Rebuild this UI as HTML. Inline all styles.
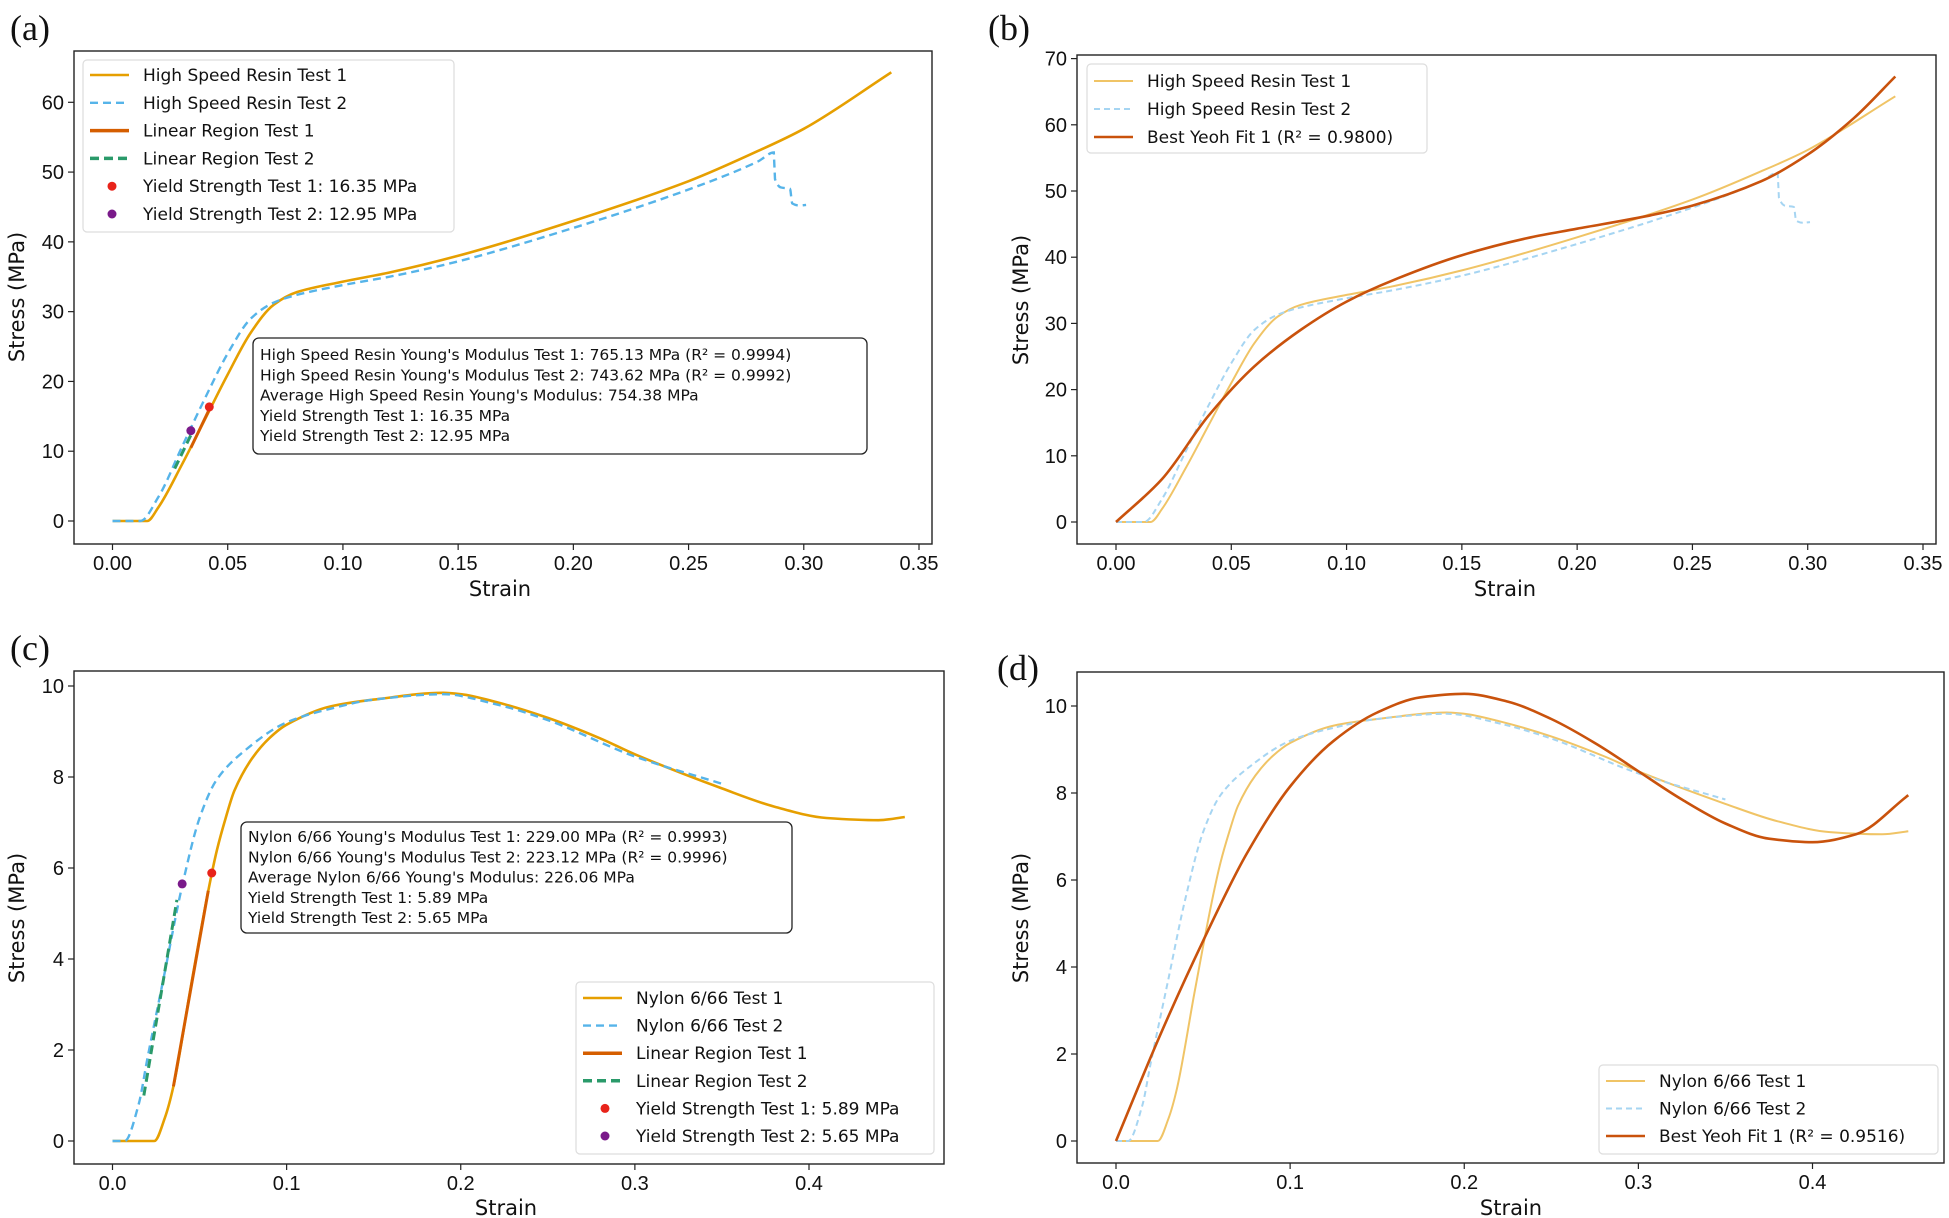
<!DOCTYPE html>
<html><head><meta charset="utf-8"><style>
html,body{margin:0;padding:0;background:#fff;}
svg{display:block;}
text{font-family:"DejaVu Sans","Liberation Sans",sans-serif;}
.tick{font-family:"Liberation Sans",sans-serif;font-size:20px;fill:#111;}
.lab{font-family:"DejaVu Sans",sans-serif;font-size:21px;fill:#111;}
.leg{font-size:17px;fill:#111;}
.ann{font-size:15.5px;fill:#111;}
.plab{font-family:"Liberation Serif",serif;font-size:36px;fill:#111;}
</style></head><body>
<svg id="fig" width="1949" height="1218" viewBox="0 0 1949 1218" xmlns="http://www.w3.org/2000/svg"></svg>
<script>
// ---- data ----
const hsrT1X=[0,0.015,0.02,0.03,0.04,0.05,0.06,0.07,0.08,0.1,0.12,0.15,0.2,0.25,0.28,0.3,0.338];
const hsrT1Y=[0,0,2,8,14.5,21,27,31,32.8,34.3,35.6,38,43,48.7,53,56.2,64.3];
const hsrT2X=[0,0.012,0.02,0.03,0.04,0.05,0.06,0.07,0.08,0.1,0.12,0.15,0.2,0.25,0.28,0.287,0.2875,0.29,0.294,0.295,0.298,0.301];
const hsrT2Y=[0,0,3.5,10.5,17.5,24,29,31.3,32.4,33.8,35,37.2,42,47.5,51.5,52.8,49,47.8,47.6,45.5,45.2,45.3];
const hsrLin1X=[0.034,0.042], hsrLin1Y=[10.5,16];
const hsrLin2X=[0.027,0.035], hsrLin2Y=[7.5,13];
const hsrYieldX=[0.042,0.034], hsrYieldY=[16.35,12.95];
const hsrFitX=[0,0.02,0.04,0.06,0.08,0.1,0.12,0.15,0.18,0.2,0.23,0.25,0.28,0.3,0.32,0.338];
const hsrFitY=[0,6.5,16,23.5,29,33.3,36.5,40.3,43,44.3,46.2,47.8,51.5,55.5,61,67.3];
const nyT1X=[0,0.024,0.03,0.035,0.045,0.055,0.06,0.065,0.07,0.08,0.09,0.1,0.125,0.15,0.19,0.2,0.22,0.25,0.28,0.3,0.35,0.38,0.41,0.44,0.455];
const nyT1Y=[0,0,0.5,1.2,3.4,5.5,6.4,7.1,7.7,8.4,8.85,9.15,9.55,9.7,9.85,9.82,9.65,9.3,8.85,8.5,7.75,7.35,7.1,7.05,7.12];
const nyT2X=[0,0.007,0.015,0.02,0.03,0.04,0.05,0.06,0.075,0.1,0.125,0.15,0.19,0.22,0.25,0.3,0.35];
const nyT2Y=[0,0,0.8,1.8,3.7,5.6,7.1,7.95,8.55,9.2,9.5,9.7,9.82,9.6,9.25,8.45,7.85];
const nyLin1X=[0.035,0.055], nyLin1Y=[1.2,5.5];
const nyLin2X=[0.018,0.037], nyLin2Y=[1,5.3];
const nyYieldX=[0.057,0.04], nyYieldY=[5.89,5.65];
const nyFitX=[0,0.025,0.05,0.075,0.1,0.125,0.15,0.175,0.2,0.225,0.25,0.275,0.3,0.325,0.35,0.375,0.4,0.425,0.455];
const nyFitY=[0,2.4,4.6,6.6,8.15,9.2,9.85,10.2,10.28,10.1,9.7,9.15,8.5,7.85,7.3,6.95,6.87,7.05,7.95];
const hsrXTicks=[0,0.05,0.1,0.15,0.2,0.25,0.3,0.35];
const hsrXLabels=["0.00","0.05","0.10","0.15","0.20","0.25","0.30","0.35"];
const hsrYTicksA=[0,10,20,30,40,50,60];
const hsrYTicksB=[0,10,20,30,40,50,60,70];
const nyXTicks=[0,0.1,0.2,0.3,0.4];
const nyXLabels=["0.0","0.1","0.2","0.3","0.4"];
const nyYTicks=[0,2,4,6,8,10];

const NS="http://www.w3.org/2000/svg";
const svg=document.getElementById('fig');
function el(tag,attrs,parent,txt){const e=document.createElementNS(NS,tag);for(const k in attrs)e.setAttribute(k,attrs[k]);if(txt!==undefined)e.textContent=txt;(parent||svg).appendChild(e);return e;}
// monotone cubic (Fritsch-Carlson) in screen coords
function pathD(xs,ys,sx,sy){const X=xs.map(sx),Y=ys.map(sy),n=X.length;
 if(n<3)return 'M'+X[0]+','+Y[0]+'L'+X[1]+','+Y[1];
 const d=[],m=new Array(n);
 for(let i=0;i<n-1;i++){const h=X[i+1]-X[i];d.push(h>1e-6?(Y[i+1]-Y[i])/h:(Y[i+1]>Y[i]?1e6:-1e6));}
 m[0]=d[0];m[n-1]=d[n-2];
 for(let i=1;i<n-1;i++){m[i]=(d[i-1]*d[i]<=0)?0:2/(1/d[i-1]+1/d[i]);}
 let s='M'+X[0].toFixed(1)+','+Y[0].toFixed(1);
 for(let i=0;i<n-1;i++){const h=X[i+1]-X[i];
  if(h<1.5){s+='L'+X[i+1].toFixed(1)+','+Y[i+1].toFixed(1);continue;}
  s+=`C${(X[i]+h/3).toFixed(1)},${(Y[i]+m[i]*h/3).toFixed(1)} ${(X[i+1]-h/3).toFixed(1)},${(Y[i+1]-m[i+1]*h/3).toFixed(1)} ${X[i+1].toFixed(1)},${Y[i+1].toFixed(1)}`;}
 return s;}
function panel(cfg){
 const g=el('g',{});
 
 
 const sx=v=>cfg.x0+(v-0)*(cfg.x1px-cfg.x0)/cfg.x1v;
 const sy=v=>cfg.y0-v*(cfg.y0-cfg.y1px)/cfg.y1v;
 cfg.xt.forEach((t,i)=>{const x=sx(t);el('line',{x1:x,y1:cfg.B,x2:x,y2:cfg.B+6,stroke:'#222','stroke-width':1.2},g);
  const tx=el('text',{x:x,y:cfg.B+26,'text-anchor':'middle',class:'tick'},g,cfg.xl[i]);
  
  });
 cfg.yt.forEach(t=>{const y=sy(t);el('line',{x1:cfg.L-6,y1:y,x2:cfg.L,y2:y,stroke:'#222','stroke-width':1.2},g);
  const ty=el('text',{x:cfg.L-10,y:y+7,'text-anchor':'end',class:'tick'},g,String(t));
  
  });
 cfg.series.forEach(s=>{const p=el('path',{d:pathD(s.x,s.y,sx,sy),fill:'none',stroke:s.c,'stroke-width':s.w,'stroke-dasharray':s.dash||'none'},g);
  
  });
 (cfg.dots||[]).forEach(d=>{const c=el('circle',{cx:sx(d.x),cy:sy(d.y),r:4.5,fill:d.c},g);
  
  });
 const fr=el('rect',{x:cfg.L,y:cfg.T,width:cfg.R-cfg.L,height:cfg.B-cfg.T,fill:'none',stroke:'#222','stroke-width':1.4},g);
 
 
 const xl=el('text',{x:cfg.xlab[0],y:cfg.xlab[1],'text-anchor':'middle',class:'lab'},g,'Strain');
 
 
 const yl=el('text',{x:0,y:0,'text-anchor':'middle',class:'lab',transform:`translate(${cfg.ylab[0]},${cfg.ylab[1]}) rotate(-90)`},g,'Stress (MPa)');
 
 
 const pl=el('text',{x:cfg.plab[0],y:cfg.plab[1],class:'plab'},g,cfg.plabt);
 
 
 const lg=cfg.leg;
 const lr=el('rect',{x:lg.x,y:lg.y,width:lg.w,height:lg.h,rx:4,fill:'#fff','fill-opacity':0.85,stroke:'#ddd','stroke-width':1.2},g);
 
 
 lg.items.forEach((it,i)=>{const y=lg.ry0+i*lg.dy;
  if(it.dot){el('circle',{cx:lg.x+29,cy:y,r:4.5,fill:it.c},g);}
  else el('line',{x1:lg.x+7,y1:y,x2:lg.x+46,y2:y,stroke:it.c,'stroke-width':it.w,'stroke-dasharray':it.dash||'none'},g);
  const t=el('text',{x:lg.x+60,y:y+6,class:'leg'},g,it.t);
  
  });
 if(cfg.ann){const a=cfg.ann;
  const ar=el('rect',{x:a.x,y:a.y,width:a.w,height:a.h,rx:6,fill:'#fff',stroke:'#222','stroke-width':1.3},g);
  
  
  a.lines.forEach((l,i)=>{const t=el('text',{x:a.x+7,y:a.ly0+i*a.dy,class:'ann'},g,l);
   
   });}
}
const OR='#E69F00',BL='#56B4E9',VM='#D55E00',GR='#2a9a6a',RD='#e8231a',PU='#7a1a8a';
const LOR='#f0c466',LBL='#a6d5f2',FIT='#c9520c';
panel({name:'panel-a',L:74,R:932,T:51,B:544,x0:112.5,x1px:919,x1v:0.35,y0:521,y1px:102.3,y1v:60,
 xt:hsrXTicks,xl:hsrXLabels,yt:hsrYTicksA,xlab:[500,596],ylab:[24,297],plab:[10,40],plabt:'(a)',
 series:[{n:'hsr-test-1',x:hsrT1X,y:hsrT1Y,c:OR,w:2.6},{n:'hsr-test-2',x:hsrT2X,y:hsrT2Y,c:BL,w:2.4,dash:'8,5'},
  {n:'linear-region-1',x:hsrLin1X,y:hsrLin1Y,c:VM,w:3},{n:'linear-region-2',x:hsrLin2X,y:hsrLin2Y,c:GR,w:3,dash:'9,5'}],
 dots:[{n:'yield-1',x:hsrYieldX[0],y:hsrYieldY[0],c:RD},{n:'yield-2',x:hsrYieldX[1],y:hsrYieldY[1],c:PU}],
 leg:{x:83,y:60,w:371,h:172,ry0:75,dy:27.8,items:[{t:'High Speed Resin Test 1',c:OR,w:2.6},{t:'High Speed Resin Test 2',c:BL,w:2.4,dash:'8,5'},
  {t:'Linear Region Test 1',c:VM,w:3.5},{t:'Linear Region Test 2',c:GR,w:3.5,dash:'9,5'},{t:'Yield Strength Test 1: 16.35 MPa',c:RD,dot:1},{t:'Yield Strength Test 2: 12.95 MPa',c:PU,dot:1}]},
 ann:{x:253,y:338,w:614,h:116,ly0:360,dy:20.3,lines:["High Speed Resin Young's Modulus Test 1: 765.13 MPa (R² = 0.9994)","High Speed Resin Young's Modulus Test 2: 743.62 MPa (R² = 0.9992)","Average High Speed Resin Young's Modulus: 754.38 MPa","Yield Strength Test 1: 16.35 MPa","Yield Strength Test 2: 12.95 MPa"]}});
panel({name:'panel-b',L:1077,R:1936,T:55,B:544,x0:1116,x1px:1923,x1v:0.35,y0:522,y1px:58.6,y1v:70,
 xt:hsrXTicks,xl:hsrXLabels,yt:hsrYTicksB,xlab:[1505,596],ylab:[1028,300],plab:[988,40],plabt:'(b)',
 series:[{n:'hsr-test-1',x:hsrT1X,y:hsrT1Y,c:LOR,w:2},{n:'hsr-test-2',x:hsrT2X,y:hsrT2Y,c:LBL,w:2,dash:'6,4'},
  {n:'yeoh-fit',x:hsrFitX,y:hsrFitY,c:FIT,w:2.6}],
 leg:{x:1087,y:64,w:340,h:89,ry0:81,dy:28,items:[{t:'High Speed Resin Test 1',c:LOR,w:2},{t:'High Speed Resin Test 2',c:LBL,w:2,dash:'6,4'},{t:'Best Yeoh Fit 1 (R² = 0.9800)',c:FIT,w:2.6}]}});
panel({name:'panel-c',L:74,R:944,T:671,B:1164,x0:112.5,x1px:809,x1v:0.4,y0:1141,y1px:686,y1v:10,
 xt:nyXTicks,xl:nyXLabels,yt:nyYTicks,xlab:[506,1215],ylab:[24,918],plab:[10,660],plabt:'(c)',
 series:[{n:'nylon-test-1',x:nyT1X,y:nyT1Y,c:OR,w:2.6},{n:'nylon-test-2',x:nyT2X,y:nyT2Y,c:BL,w:2.4,dash:'8,5'},
  {n:'linear-region-1',x:nyLin1X,y:nyLin1Y,c:VM,w:3},{n:'linear-region-2',x:nyLin2X,y:nyLin2Y,c:GR,w:3,dash:'9,5'}],
 dots:[{n:'yield-1',x:nyYieldX[0],y:nyYieldY[0],c:RD},{n:'yield-2',x:nyYieldX[1],y:nyYieldY[1],c:PU}],
 leg:{x:576,y:982,w:358,h:172,ry0:998,dy:27.6,items:[{t:'Nylon 6/66 Test 1',c:OR,w:2.6},{t:'Nylon 6/66 Test 2',c:BL,w:2.4,dash:'8,5'},
  {t:'Linear Region Test 1',c:VM,w:3.5},{t:'Linear Region Test 2',c:GR,w:3.5,dash:'9,5'},{t:'Yield Strength Test 1: 5.89 MPa',c:RD,dot:1},{t:'Yield Strength Test 2: 5.65 MPa',c:PU,dot:1}]},
 ann:{x:241,y:822,w:551,h:111,ly0:842,dy:20.3,lines:["Nylon 6/66 Young's Modulus Test 1: 229.00 MPa (R² = 0.9993)","Nylon 6/66 Young's Modulus Test 2: 223.12 MPa (R² = 0.9996)","Average Nylon 6/66 Young's Modulus: 226.06 MPa","Yield Strength Test 1: 5.89 MPa","Yield Strength Test 2: 5.65 MPa"]}});
panel({name:'panel-d',L:1077,R:1944,T:672,B:1163,x0:1116,x1px:1812.5,x1v:0.4,y0:1141,y1px:706,y1v:10,
 xt:nyXTicks,xl:nyXLabels,yt:nyYTicks,xlab:[1511,1215],ylab:[1028,918],plab:[997,680],plabt:'(d)',
 series:[{n:'nylon-test-1',x:nyT1X,y:nyT1Y,c:LOR,w:2},{n:'nylon-test-2',x:nyT2X,y:nyT2Y,c:LBL,w:2,dash:'6,4'},
  {n:'yeoh-fit',x:nyFitX,y:nyFitY,c:FIT,w:2.6}],
 leg:{x:1599,y:1065,w:339,h:89,ry0:1081,dy:27.5,items:[{t:'Nylon 6/66 Test 1',c:LOR,w:2},{t:'Nylon 6/66 Test 2',c:LBL,w:2,dash:'6,4'},{t:'Best Yeoh Fit 1 (R² = 0.9516)',c:FIT,w:2.6}]}});
</script>
</body></html>
